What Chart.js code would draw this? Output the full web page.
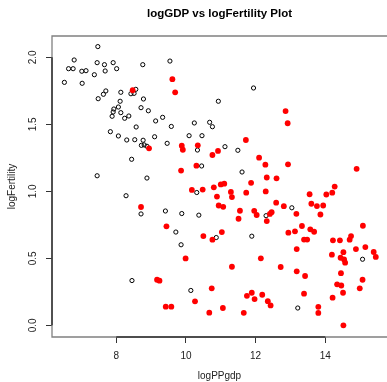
<!DOCTYPE html>
<html lang="en">
<head>
    <meta charset="UTF-8">
    <title>logGDP vs logFertility Plot</title>
    <script src="https://cdn.jsdelivr.net/npm/chart.js"></script>
    <style>
        html, body { margin: 0; padding: 0; overflow: hidden; background: #fff; }
        #wrap { width: 387px; height: 382px; }
    </style>
</head>
<body>
    <div id="wrap">
        <canvas id="myChart" width="387" height="382"></canvas>
    </div>

    <script>
// points
const openX = [7.47, 6.79, 7.45, 7.66, 7.91, 8.76, 6.63, 6.76, 7.01, 7.13, 7.68, 8.01, 7.37, 6.51, 7.02, 8.56, 8.42, 8.51, 7.70, 7.63,
    8.13, 7.48, 8.78, 8.11, 8.06, 8.71, 8.92, 7.93, 7.91, 8.13, 7.88, 8.24, 8.36, 9.33, 9.13, 8.57, 7.83, 8.06, 8.30, 8.53,
    8.77, 9.10, 9.46, 8.72, 8.80, 8.88, 8.44, 7.45, 8.88, 9.54, 11.94, 10.93, 9.58, 10.24, 10.68, 10.76, 10.09, 10.46, 11.12, 10.33,
    11.49, 10.45, 11.61, 8.28, 8.71, 9.41, 9.88, 10.37, 9.71, 9.86, 8.45, 10.14, 10.31, 10.87, 11.89, 12.30, 13.04, 15.07, 13.21];
const openY = [2.08, 1.98, 1.96, 1.945, 1.96, 1.945, 1.915, 1.915, 1.896, 1.90, 1.898, 1.915, 1.87, 1.813, 1.806, 1.761, 1.728, 1.731, 1.749, 1.724,
    1.739, 1.691, 1.689, 1.672, 1.629, 1.624, 1.601, 1.614, 1.592, 1.587, 1.56, 1.545, 1.562, 1.552, 1.525, 1.48, 1.445, 1.413, 1.383, 1.385,
    1.381, 1.407, 1.358, 1.343, 1.346, 1.336, 1.239, 1.116, 1.099, 1.972, 1.771, 1.672, 1.484, 1.51, 1.515, 1.482, 1.415, 1.415, 1.333, 1.308,
    1.306, 1.189, 1.144, 0.967, 0.831, 0.853, 0.834, 0.822, 0.696, 0.601, 0.334, 0.26, 0.991, 0.655, 0.665, 0.818, 0.877, 0.493, 0.129];

const fillX = [8.47, 8.94, 9.61, 9.69, 9.88, 9.91, 10.34, 11.72, 10.92, 10.76, 12.10, 12.28, 10.30, 9.86, 11.87, 12.32, 12.60, 11.00, 11.10, 10.80,
    12.86, 12.92, 12.93, 14.90, 14.27, 8.71, 9.44, 9.17, 9.24, 9.42, 9.99, 10.26, 9.58, 10.17, 10.48, 11.29, 11.73, 12.29, 10.89, 11.32,
    12.59, 10.94, 11.07, 11.55, 11.96, 12.03, 12.46, 12.41, 11.51, 12.32, 10.50, 10.76, 11.03, 12.15, 11.32, 12.72, 10.74, 11.75, 11.89, 12.19,
    11.97, 12.35, 12.43, 11.06, 10.67, 11.66, 13.55, 14.03, 14.20, 12.81, 13.60, 13.76, 13.94, 13.17, 13.86, 13.33, 15.08, 12.94, 13.13, 13.57,
    13.68, 13.39, 13.48, 14.22, 14.42, 14.70, 14.74, 13.18, 14.88, 15.15, 15.39, 15.45, 14.19, 14.52, 14.44, 14.54, 14.57, 13.18, 13.42, 14.45,
    15.07, 14.34, 14.46, 14.99, 14.51, 13.39, 14.21, 13.80, 13.80, 14.52];
const fillY = [1.754, 1.321, 1.837, 1.739, 1.340, 1.310, 1.343, 1.383, 1.301, 1.271, 1.251, 1.199, 1.191, 1.155, 1.063, 1.103, 1.097, 1.051, 1.057, 1.030,
    1.599, 1.508, 1.201, 1.168, 1.035, 0.883, 0.739, 0.340, 0.333, 0.139, 0.499, 0.179, 0.139, 1.010, 1.013, 0.995, 0.990, 0.999, 0.961, 0.957,
    0.915, 0.894, 0.884, 0.855, 0.854, 0.823, 0.844, 0.831, 0.795, 0.778, 0.666, 0.639, 0.696, 0.500, 0.437, 0.435, 0.276, 0.220, 0.243, 0.228,
    0.196, 0.180, 0.148, 0.129, 0.094, 0.093, 0.978, 0.976, 0.990, 0.889, 0.907, 0.890, 0.894, 0.832, 0.827, 0.741, 0.743, 0.691, 0.701, 0.716,
    0.698, 0.640, 0.640, 0.634, 0.634, 0.639, 0.666, 0.569, 0.569, 0.584, 0.547, 0.510, 0.527, 0.546, 0.504, 0.491, 0.467, 0.403, 0.368, 0.389,
    0.340, 0.306, 0.297, 0.276, 0.243, 0.236, 0.206, 0.138, 0.092, 0.000];

const xTicks = [8, 10, 12, 14];
const yTicks = [0, 0.5, 1, 1.5, 2];

const FONT = "'Liberation Sans', Arial, sans-serif";

function toPoints(xs, ys) {
    return xs.map((x, i) => ({ x: x, y: ys[i] }));
}

// R style box (right side is cut off in the picture) + axis lines + rotated y labels
const rAxes = {
    id: 'rAxes',
    afterDraw(chart) {
        const ctx = chart.ctx;
        const a = chart.chartArea;
        const xs = chart.scales.x;
        const ys = chart.scales.y;
        ctx.save();
        ctx.strokeStyle = '#808080';
        ctx.lineWidth = 1.3;
        ctx.beginPath();
        ctx.moveTo(chart.width, a.top);
        ctx.lineTo(a.left, a.top);
        ctx.lineTo(a.left, a.bottom);
        ctx.lineTo(chart.width, a.bottom);
        ctx.stroke();

        ctx.strokeStyle = '#333';
        ctx.lineWidth = 1.5;
        ctx.beginPath();
        ctx.moveTo(xs.getPixelForValue(xTicks[0]), a.bottom);
        ctx.lineTo(xs.getPixelForValue(xTicks[xTicks.length - 1]), a.bottom);
        ctx.moveTo(a.left, ys.getPixelForValue(yTicks[0]));
        ctx.lineTo(a.left, ys.getPixelForValue(yTicks[yTicks.length - 1]));
        ctx.stroke();

        ctx.fillStyle = '#222';
        ctx.font = '10px ' + FONT;
        ctx.textAlign = 'center';
        ctx.textBaseline = 'middle';
        yTicks.forEach(v => {
            ctx.save();
            ctx.translate(33.5, ys.getPixelForValue(v));
            ctx.rotate(-Math.PI / 2);
            ctx.fillText(v.toFixed(1), 0, 0);
            ctx.restore();
        });
        ctx.restore();
    }
};

const ctx = document.getElementById('myChart').getContext('2d');
new Chart(ctx, {
    type: 'scatter',
    data: {
        datasets: [
            {
                label: 'filled',
                data: toPoints(fillX, fillY),
                backgroundColor: '#ff0000',
                borderWidth: 0,
                pointRadius: 2.9
            },
            {
                label: 'open',
                data: toPoints(openX, openY),
                backgroundColor: 'rgba(0,0,0,0)',
                borderColor: '#000',
                borderWidth: 1,
                pointRadius: 2.1
            }
        ]
    },
    options: {
        responsive: false,
        animation: false,
        events: [],
        layout: { autoPadding: false, padding: 0 },
        plugins: {
            legend: { display: false },
            tooltip: { enabled: false },
            title: {
                display: true,
                text: 'logGDP vs logFertility Plot',
                color: '#000',
                fullSize: false,
                font: { family: FONT, size: 11.5, weight: 'bold' },
                padding: { top: 6.6, bottom: 15.6 }
            }
        },
        scales: {
            x: {
                type: 'linear',
                min: 6.154,
                max: 15.772,
                afterBuildTicks: s => { s.ticks = xTicks.map(v => ({ value: v })); },
                afterFit: s => { s.height = 45; },
                grid: { drawOnChartArea: false, drawTicks: true, tickLength: 6, color: '#333', lineWidth: 1 },
                border: { display: false },
                ticks: { color: '#222', padding: 7, font: { family: FONT, size: 10 } },
                title: { display: true, text: 'logPPgdp', color: '#222', padding: 0, font: { family: FONT, size: 10 } }
            },
            y: {
                type: 'linear',
                min: -0.0873,
                max: 2.159,
                afterBuildTicks: s => { s.ticks = yTicks.map(v => ({ value: v })); },
                afterFit: s => { s.width = 52; },
                grid: { drawOnChartArea: false, drawTicks: true, tickLength: 6, color: '#333', lineWidth: 1 },
                border: { display: false },
                ticks: { display: false },
                title: { display: true, text: 'logFertility', color: '#222', padding: { top: 6.5, bottom: 0 }, font: { family: FONT, size: 10 } }
            }
        }
    },
    plugins: [rAxes]
});
    </script>
</body>
</html>
